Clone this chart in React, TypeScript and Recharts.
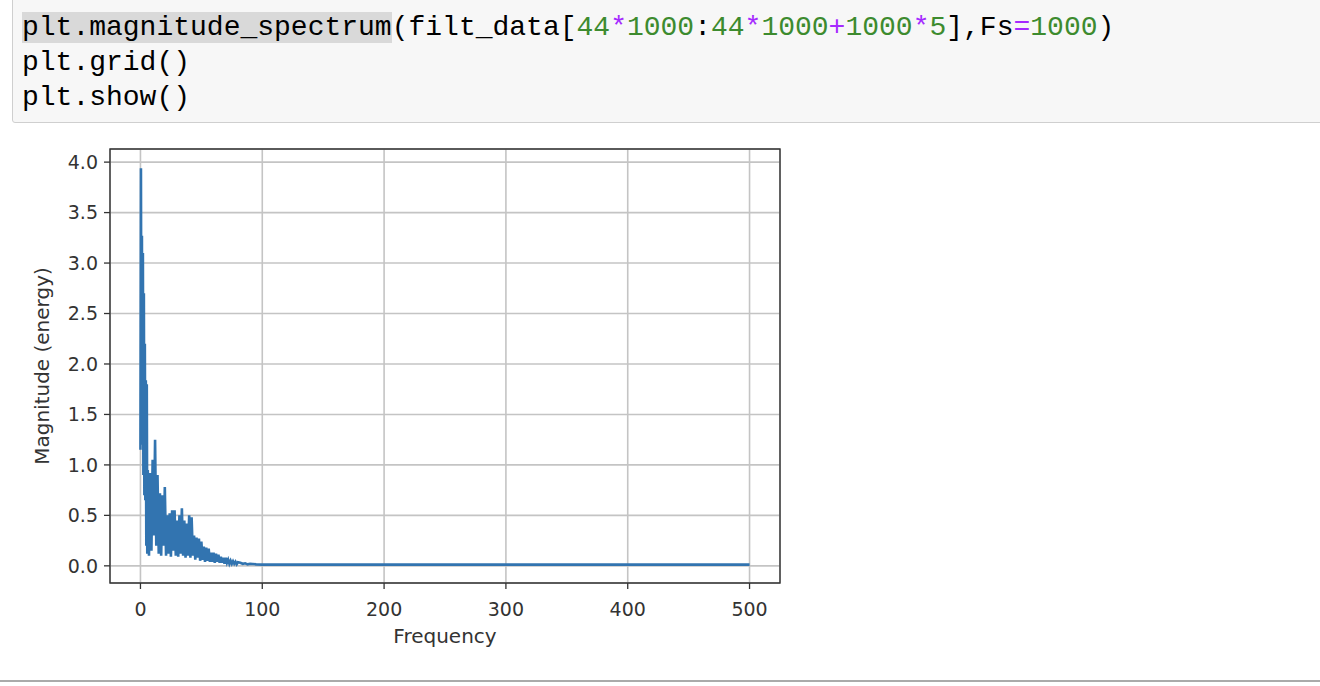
import { CartesianGrid, Line, LineChart, ReferenceArea, XAxis, YAxis } from "recharts"

// frequency bins (Hz), denser near the low end
const freqs = [
  0, 0.4, 0.8, 1.2, 1.6, 2, 2.4, 2.8, 3.2, 3.6, 4, 4.4, 4.8, 5.2, 5.6,
  6, 7, 8, 9, 10, 11, 12, 13, 14, 15, 16, 17, 18, 19, 20,
  21, 22, 23, 24, 25, 26, 27, 28, 29, 30, 31, 32, 33, 34, 35,
  36, 37, 38, 39, 40, 41, 42, 43, 44, 45, 46, 47, 48, 49, 50,
  51, 52, 53, 54, 55, 56, 57, 58, 59, 60, 61, 62, 63, 64, 65,
  66, 67, 68, 69, 70, 71, 72, 73, 74, 75, 76, 77, 78, 79, 80,
  82, 84, 86, 88, 90, 95, 100, 150, 200, 250, 300, 350, 400, 450, 500,
]

const magnitudes = [
  1.15, 3.94, 1.6, 3.27, 1.2, 3.1, 0.9, 2.7, 0.7, 2.2, 0.65, 1.84, 0.2, 1.8, 0.12,
  0.95, 0.1, 0.92, 0.15, 1.05, 0.3, 1.25, 0.2, 0.9, 0.12, 0.72, 0.1, 0.7, 0.2, 0.78,
  0.1, 0.5, 0.12, 0.52, 0.09, 0.55, 0.15, 0.55, 0.1, 0.45, 0.09, 0.5, 0.12, 0.57, 0.1,
  0.45, 0.08, 0.42, 0.1, 0.5, 0.08, 0.48, 0.1, 0.3, 0.06, 0.28, 0.08, 0.27, 0.05, 0.24,
  0.06, 0.19, 0.04, 0.18, 0.05, 0.17, 0.04, 0.13, 0.04, 0.13, 0.03, 0.12, 0.04, 0.11, 0.03,
  0.09, 0.03, 0.08, 0.02, 0.08, 0.03, 0.06, 0.02, 0.05, 0.02, 0.045, 0.02, 0.04, 0.015, 0.035,
  0.03, 0.02, 0.025, 0.015, 0.02, 0.015, 0.012, 0.012, 0.012, 0.012, 0.012, 0.012, 0.012, 0.012, 0.012,
]

const xTicks = [0, 100, 200, 300, 400, 500]
const yTicks = [0, 0.5, 1, 1.5, 2, 2.5, 3, 3.5, 4]

const data = freqs.map((f, i) => ({ f, m: magnitudes[i] }))

const tickStyle = { fill: "#333", fontSize: 19, fontFamily: "DejaVu Sans" }

function YTitle({ viewBox }: any) {
  const cx = viewBox.x + 42
  const cy = viewBox.y + viewBox.height / 2
  return (
    <text
      x={cx}
      y={cy}
      transform={`rotate(-90 ${cx} ${cy})`}
      textAnchor="middle"
      dominantBaseline="central"
      fill="#333"
      fontSize={20}
      fontFamily="DejaVu Sans"
    >
      Magnitude (energy)
    </text>
  )
}

const green = { color: "#3d8b2f" }
const purple = { color: "#a52aff" }

export default function App() {
  return (
    <div style={{ position: "absolute", left: 0, top: 0, width: 1320, height: 686, overflow: "hidden", background: "#fff" }}>
      <div
        style={{
          position: "absolute",
          left: 12,
          top: -10,
          width: 1340,
          height: 131,
          background: "#f7f7f7",
          border: "1px solid #cfcfcf",
          borderRadius: 3,
        }}
      >
        <pre
          style={{
            margin: 0,
            padding: "19px 0 0 9px",
            fontFamily: "Liberation Mono",
            fontSize: 28,
            lineHeight: "35px",
            color: "#000",
          }}
        >
          <span style={{ background: "#d9d9d9" }}>plt.magnitude_spectrum</span>(filt_data[
          <span style={green}>44</span>
          <span style={purple}>*</span>
          <span style={green}>1000</span>:<span style={green}>44</span>
          <span style={purple}>*</span>
          <span style={green}>1000</span>
          <span style={purple}>+</span>
          <span style={green}>1000</span>
          <span style={purple}>*</span>
          <span style={green}>5</span>],Fs<span style={purple}>=</span>
          <span style={green}>1000</span>){"\n"}
          plt.grid(){"\n"}
          plt.show()
        </pre>
      </div>

      <div style={{ position: "absolute", left: 0, top: 0 }}>
        <LineChart width={820} height={686} data={data} margin={{ top: 149, right: 40, bottom: 43, left: 0 }}>
          <CartesianGrid stroke="#c4c4c4" strokeWidth={1.6} />
          <XAxis
            dataKey="f"
            type="number"
            domain={[-25, 525]}
            ticks={xTicks}
            allowDataOverflow
            height={60}
            tick={tickStyle}
            tickSize={6}
            tickMargin={14}
            tickLine={{ stroke: "#333", strokeWidth: 1.3 }}
            axisLine={false}
            label={{ value: "Frequency", position: "insideBottom", offset: 0, fill: "#333", fontSize: 20, fontFamily: "DejaVu Sans" }}
          />
          <YAxis
            type="number"
            domain={[-0.17, 4.13]}
            ticks={yTicks}
            allowDataOverflow
            width={110}
            tick={tickStyle}
            tickSize={6}
            tickMargin={6}
            tickLine={{ stroke: "#333", strokeWidth: 1.3 }}
            axisLine={false}
            tickFormatter={(v: number) => v.toFixed(1)}
            label={<YTitle />}
          />
          <Line
            type="linear"
            dataKey="m"
            stroke="#3274b0"
            strokeWidth={2.6}
            dot={false}
            isAnimationActive={false}
          />
          <ReferenceArea x1={-25} x2={525} y1={-0.17} y2={4.13} fill="none" stroke="#333" strokeWidth={1.4} />
        </LineChart>
      </div>

      <div style={{ position: "absolute", left: 0, top: 680, width: 1320, height: 2, background: "#aaa" }} />
    </div>
  )
}
